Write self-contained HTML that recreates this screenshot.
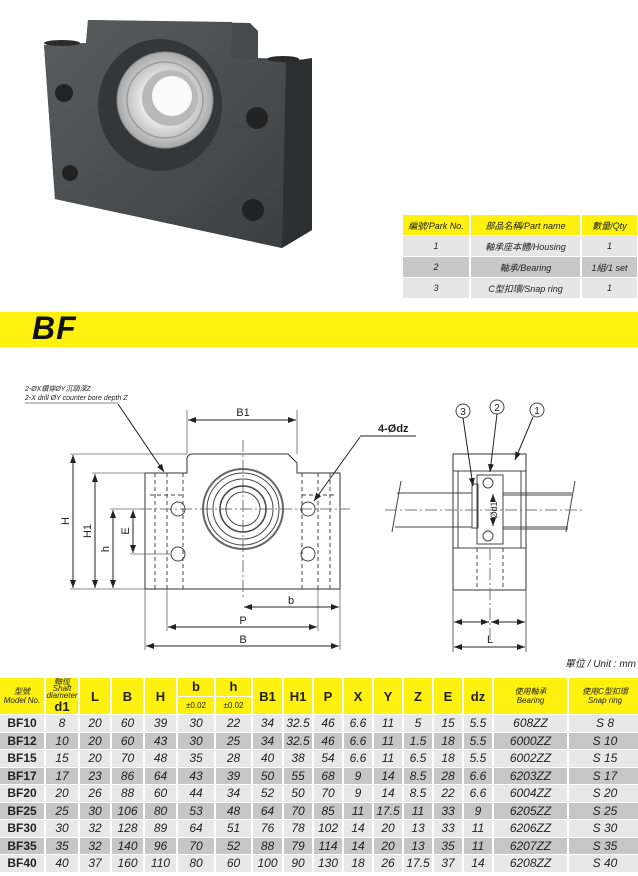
<!DOCTYPE html>
<html><head><meta charset="utf-8">
<style>
html,body{margin:0;padding:0;background:#fff;}
body{width:638px;height:876px;position:relative;overflow:hidden;font-family:"Liberation Sans","Noto Sans CJK TC",sans-serif;}
.abs{position:absolute;}
table{border-collapse:separate;border-spacing:2px 1px;table-layout:fixed;}
td{padding:0;text-align:center;font-style:italic;font-size:12px;color:#222;overflow:hidden;white-space:nowrap;}
#parts{left:401px;top:214px;width:236px;}
#parts td{height:20px;font-size:9px;}
#parts .h td{background:#fff10f;}
#parts .l td{background:#e6e6e6;}
#parts .d td{background:#c8c8c8;}
#spec{left:-2px;top:677px;width:642px;}
#spec td{height:16.5px;}
#spec .h td{background:#fff10f;font-style:normal;font-weight:bold;font-size:13px;}
#spec .l td{background:#e8e8e8;}
#spec .d td{background:#c6c6c6;}
#spec td.m{font-style:normal;font-weight:bold;font-size:12px;}
.sm{font-size:8px !important;font-weight:normal !important;font-style:italic;line-height:9px;}
</style></head><body>

<svg class="abs" style="left:0;top:0" width="638" height="310">
  <defs>
    <linearGradient id="fg" x1="0" y1="0" x2="1" y2="1"><stop offset="0" stop-color="#5a5c5e"/><stop offset="1" stop-color="#3c3e40"/></linearGradient>
    <radialGradient id="sv"><stop offset="0.5" stop-color="#e8e8e8"/><stop offset="1" stop-color="#a9a9a9"/></radialGradient>
  </defs>
  <polygon points="44,45 86,43 88,20 250,23 258,31 258,58 312,60 312,230 282,248 55,199" fill="#48494b"/>
  <polygon points="44,45 86,43 88,20 232,22 231,58 286,62 282,248 55,199" fill="url(#fg)"/>
  <polygon points="286,62 312,58 312,230 282,248" fill="#2e2f31"/>
  <ellipse cx="62" cy="43" rx="18" ry="3" fill="#2a2a2a"/>
  <ellipse cx="283" cy="59" rx="16" ry="3" fill="#2a2a2a"/>
  <ellipse cx="160" cy="105" rx="62" ry="66" fill="#353637"/>
  <circle cx="165" cy="100" r="48" fill="url(#sv)" stroke="#888" stroke-width="1"/>
  <circle cx="165" cy="100" r="38" fill="none" stroke="#9a9a9a" stroke-width="1.5"/>
  <circle cx="170" cy="98" r="28" fill="#b9b9b9"/>
  <circle cx="172" cy="96" r="20" fill="#fafafa"/>
  <circle cx="64" cy="93" r="9" fill="#222"/>
  <circle cx="70" cy="173" r="8" fill="#222"/>
  <circle cx="257" cy="118" r="11" fill="#222"/>
  <circle cx="253" cy="210" r="11" fill="#222"/>
</svg>

<table id="parts" class="abs">
<colgroup><col style="width:66px"><col style="width:109px"><col style="width:55px"></colgroup>
<tr class="h"><td>編號/Park No.</td><td>部品名稱/Part name</td><td>數量/Qty</td></tr>
<tr class="l"><td>1</td><td>軸承座本體/Housing</td><td>1</td></tr>
<tr class="d"><td>2</td><td>軸承/Bearing</td><td>1組/1 set</td></tr>
<tr class="l"><td>3</td><td>C型扣環/Snap ring</td><td>1</td></tr>
</table>

<div class="abs" style="left:0;top:312px;width:638px;height:35px;background:#fff10f;"></div>
<div class="abs" style="left:32px;top:310px;font-size:32px;font-weight:bold;font-style:italic;color:#111;letter-spacing:1px;">BF</div>

<svg class="abs" style="left:0;top:370px" width="638" height="300" viewBox="0 370 638 300" font-family="Liberation Sans, Noto Sans CJK TC, sans-serif">
 <defs><marker id="a" markerWidth="8" markerHeight="6" refX="8" refY="3" orient="auto" markerUnits="userSpaceOnUse"><path d="M0,0 L8,3 L0,6z" fill="#222"/></marker></defs>
 <g stroke="#444" stroke-width="1" fill="none">
  <!-- left view body -->
  <path d="M145,473 L187,473 L187,459 Q187,454 193,454 L288,454 L297,463 L297,473 L340,473 L340,589 L145,589 Z" stroke="#333"/>
  <g stroke-dasharray="4,3">
   <line x1="155" y1="473" x2="155" y2="589"/><line x1="167" y1="473" x2="167" y2="589"/><line x1="183" y1="473" x2="183" y2="589"/>
   <line x1="302" y1="473" x2="302" y2="589"/><line x1="318" y1="473" x2="318" y2="589"/><line x1="330" y1="473" x2="330" y2="589"/>
   <line x1="150" y1="495" x2="183" y2="495"/><line x1="302" y1="495" x2="336" y2="495"/>
  </g>
  <g stroke-dasharray="12,3,2,3" stroke="#777">
   <line x1="140" y1="509" x2="350" y2="509"/><line x1="243" y1="440" x2="243" y2="600"/>
  </g>
  <circle cx="243" cy="509" r="40" stroke="#666" stroke-width="2"/>
  <circle cx="243" cy="509" r="36"/><circle cx="243" cy="509" r="30"/><circle cx="243" cy="509" r="23" stroke-width="1.5"/><circle cx="243" cy="509" r="17"/>
  <circle cx="178" cy="509" r="7"/><circle cx="178" cy="554" r="7"/><circle cx="308" cy="509" r="7"/><circle cx="308" cy="554" r="7"/>
  <!-- extension lines -->
  <g stroke="#666" stroke-width="0.8">
   <line x1="70" y1="454" x2="187" y2="454"/><line x1="92" y1="473" x2="145" y2="473"/>
   <line x1="110" y1="509" x2="140" y2="509"/><line x1="130" y1="554" x2="170" y2="554"/>
   <line x1="70" y1="589" x2="145" y2="589"/>
   <line x1="187" y1="410" x2="187" y2="454"/><line x1="297" y1="410" x2="297" y2="454"/>
   <line x1="145" y1="589" x2="145" y2="650"/><line x1="340" y1="589" x2="340" y2="650"/>
   <line x1="167" y1="589" x2="167" y2="631"/><line x1="318" y1="589" x2="318" y2="631"/>
  </g>
  <g stroke="#222" marker-end="url(#a)">
   <line x1="73" y1="521" x2="73" y2="455"/><line x1="73" y1="521" x2="73" y2="588"/>
   <line x1="95" y1="531" x2="95" y2="474"/><line x1="95" y1="531" x2="95" y2="588"/>
   <line x1="113" y1="549" x2="113" y2="510"/><line x1="113" y1="549" x2="113" y2="588"/>
   <line x1="133" y1="531" x2="133" y2="510"/><line x1="133" y1="531" x2="133" y2="553"/>
   <line x1="242" y1="420" x2="188" y2="420"/><line x1="242" y1="420" x2="296" y2="420"/>
   <line x1="290" y1="607" x2="244" y2="607"/><line x1="290" y1="607" x2="339" y2="607"/>
   <line x1="242" y1="627" x2="168" y2="627"/><line x1="242" y1="627" x2="317" y2="627"/>
   <line x1="242" y1="646" x2="146" y2="646"/><line x1="242" y1="646" x2="339" y2="646"/>
   <line x1="118" y1="404" x2="164" y2="472"/>
   <line x1="360" y1="437" x2="314" y2="501"/>
  </g>
  <line x1="25" y1="403" x2="118" y2="403" stroke="#888"/>
  <line x1="360" y1="436" x2="416" y2="436" stroke="#222"/>

  <!-- right view -->
  <rect x="453" y="454" width="73" height="136" stroke="#333"/>
  <line x1="453" y1="471" x2="526" y2="471"/>
  <line x1="453" y1="548" x2="526" y2="548"/>
  <line x1="458" y1="471" x2="458" y2="548"/><line x1="521" y1="471" x2="521" y2="548"/>
  <rect x="477" y="475" width="26" height="69"/>
  <circle cx="488" cy="483" r="5"/><circle cx="488" cy="536" r="5"/>
  <rect x="472" y="484" width="6" height="44"/>
  <line x1="397" y1="493" x2="472" y2="493"/><line x1="395" y1="527" x2="472" y2="527"/>
  <line x1="503" y1="493" x2="572" y2="493"/><line x1="503" y1="495" x2="572" y2="495"/>
  <line x1="503" y1="527" x2="568" y2="527"/><line x1="503" y1="529" x2="568" y2="529"/>
  <line x1="401" y1="481" x2="392" y2="532"/><line x1="575" y1="481" x2="566" y2="532"/>
  <g stroke-dasharray="12,3,2,3" stroke="#777">
   <line x1="385" y1="510" x2="582" y2="510"/><line x1="490" y1="548" x2="490" y2="640"/>
  </g>
  <g stroke-dasharray="4,3"><line x1="477" y1="548" x2="477" y2="590"/><line x1="503" y1="548" x2="503" y2="590"/></g>
  <line x1="453" y1="590" x2="453" y2="652" stroke="#666"/><line x1="526" y1="590" x2="526" y2="652" stroke="#666"/>
  <circle cx="463" cy="411" r="7"/><circle cx="497" cy="407" r="7"/><circle cx="537" cy="410" r="7"/>
  <g stroke="#222" marker-end="url(#a)">
   <line x1="463" y1="418" x2="473" y2="486"/><line x1="497" y1="414" x2="490" y2="472"/><line x1="533" y1="417" x2="515" y2="460"/>
   <line x1="493" y1="500" x2="493" y2="494"/><line x1="493" y1="520" x2="493" y2="526"/>
   <line x1="471" y1="622" x2="454" y2="622"/><line x1="471" y1="622" x2="489" y2="622"/>
   <line x1="508" y1="622" x2="491" y2="622"/><line x1="508" y1="622" x2="525" y2="622"/>
   <line x1="490" y1="647" x2="454" y2="647"/><line x1="490" y1="647" x2="525" y2="647"/>
  </g>
 </g>
 <g fill="#222" font-size="11">
  <text x="25" y="391" font-size="7" font-style="italic">2-ØX鑽穿ØY沉頭深Z</text>
  <text x="25" y="400" font-size="7" font-style="italic">2-X drill ØY counter bore depth Z</text>
  <text x="243" y="416" text-anchor="middle">B1</text>
  <text x="378" y="432" font-weight="bold">4-Ødz</text>
  <text x="291" y="604" text-anchor="middle">b</text>
  <text x="243" y="624" text-anchor="middle">P</text>
  <text x="243" y="643" text-anchor="middle">B</text>
  <text transform="translate(69,521) rotate(-90)" text-anchor="middle">H</text>
  <text transform="translate(91,531) rotate(-90)" text-anchor="middle">H1</text>
  <text transform="translate(109,549) rotate(-90)" text-anchor="middle">h</text>
  <text transform="translate(129,531) rotate(-90)" text-anchor="middle">E</text>
  <text transform="translate(497,510) rotate(-90)" text-anchor="middle" font-size="9">Ød1</text>
  <text x="490" y="643" text-anchor="middle">L</text>
  <text x="463" y="415" text-anchor="middle" font-size="10">3</text>
  <text x="497" y="411" text-anchor="middle" font-size="10">2</text>
  <text x="537" y="414" text-anchor="middle" font-size="10">1</text>
  <text x="636" y="667" text-anchor="end" font-size="10" font-style="italic">單位 / Unit : mm</text>
 </g>
</svg>

<table id="spec" class="abs">
<colgroup><col style="width:44px"><col style="width:32px"><col style="width:30px"><col style="width:31px"><col style="width:31px"><col style="width:36px"><col style="width:35px"><col style="width:29px"><col style="width:28px"><col style="width:28px"><col style="width:28px"><col style="width:28px"><col style="width:28px"><col style="width:28px"><col style="width:28px"><col style="width:73px"><col style="width:72px"></colgroup>
<tr class="h"><td rowspan="2" style="height:35px"><div class="sm">型號</div><div class="sm">Model No.</div></td><td rowspan="2"><div class="sm" style="line-height:7px">軸徑<br>Shaft<br>diameter</div><div>d1</div></td><td rowspan="2">L</td><td rowspan="2">B</td><td rowspan="2">H</td><td>b</td><td>h</td><td rowspan="2">B1</td><td rowspan="2">H1</td><td rowspan="2">P</td><td rowspan="2">X</td><td rowspan="2">Y</td><td rowspan="2">Z</td><td rowspan="2">E</td><td rowspan="2">dz</td><td rowspan="2"><div class="sm">使用軸承</div><div class="sm">Bearing</div></td><td rowspan="2"><div class="sm">使用C型扣環</div><div class="sm">Snap ring</div></td></tr>
<tr class="h"><td class="sm">±0.02</td><td class="sm">±0.02</td></tr>
<tr class="l"><td class="m">BF10</td><td>8</td><td>20</td><td>60</td><td>39</td><td>30</td><td>22</td><td>34</td><td>32.5</td><td>46</td><td>6.6</td><td>11</td><td>5</td><td>15</td><td>5.5</td><td>608ZZ</td><td>S 8</td></tr>
<tr class="d"><td class="m">BF12</td><td>10</td><td>20</td><td>60</td><td>43</td><td>30</td><td>25</td><td>34</td><td>32.5</td><td>46</td><td>6.6</td><td>11</td><td>1.5</td><td>18</td><td>5.5</td><td>6000ZZ</td><td>S 10</td></tr>
<tr class="l"><td class="m">BF15</td><td>15</td><td>20</td><td>70</td><td>48</td><td>35</td><td>28</td><td>40</td><td>38</td><td>54</td><td>6.6</td><td>11</td><td>6.5</td><td>18</td><td>5.5</td><td>6002ZZ</td><td>S 15</td></tr>
<tr class="d"><td class="m">BF17</td><td>17</td><td>23</td><td>86</td><td>64</td><td>43</td><td>39</td><td>50</td><td>55</td><td>68</td><td>9</td><td>14</td><td>8.5</td><td>28</td><td>6.6</td><td>6203ZZ</td><td>S 17</td></tr>
<tr class="l"><td class="m">BF20</td><td>20</td><td>26</td><td>88</td><td>60</td><td>44</td><td>34</td><td>52</td><td>50</td><td>70</td><td>9</td><td>14</td><td>8.5</td><td>22</td><td>6.6</td><td>6004ZZ</td><td>S 20</td></tr>
<tr class="d"><td class="m">BF25</td><td>25</td><td>30</td><td>106</td><td>80</td><td>53</td><td>48</td><td>64</td><td>70</td><td>85</td><td>11</td><td>17.5</td><td>11</td><td>33</td><td>9</td><td>6205ZZ</td><td>S 25</td></tr>
<tr class="l"><td class="m">BF30</td><td>30</td><td>32</td><td>128</td><td>89</td><td>64</td><td>51</td><td>76</td><td>78</td><td>102</td><td>14</td><td>20</td><td>13</td><td>33</td><td>11</td><td>6206ZZ</td><td>S 30</td></tr>
<tr class="d"><td class="m">BF35</td><td>35</td><td>32</td><td>140</td><td>96</td><td>70</td><td>52</td><td>88</td><td>79</td><td>114</td><td>14</td><td>20</td><td>13</td><td>35</td><td>11</td><td>6207ZZ</td><td>S 35</td></tr>
<tr class="l"><td class="m">BF40</td><td>40</td><td>37</td><td>160</td><td>110</td><td>80</td><td>60</td><td>100</td><td>90</td><td>130</td><td>18</td><td>26</td><td>17.5</td><td>37</td><td>14</td><td>6208ZZ</td><td>S 40</td></tr>
</table>
</body></html>
